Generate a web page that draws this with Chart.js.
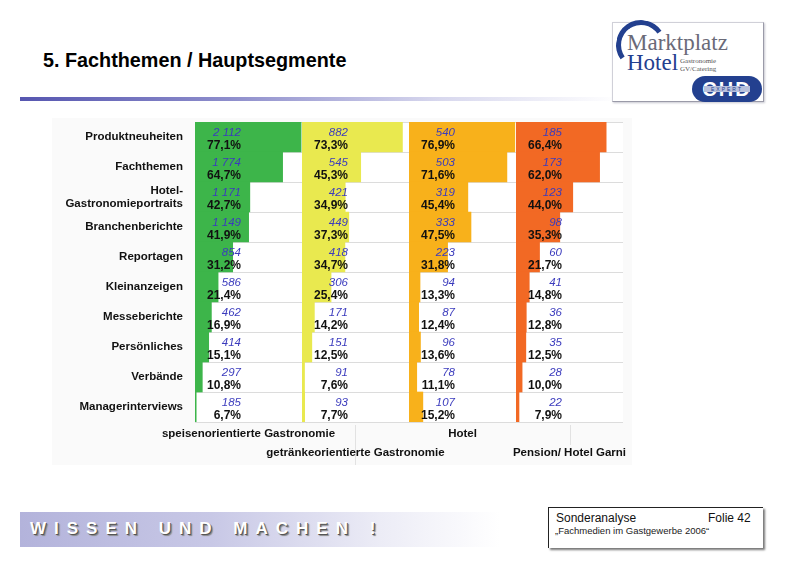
<!DOCTYPE html>
<html>
<head>
<meta charset="utf-8">
<script src="https://cdn.jsdelivr.net/npm/chart.js@4.4.1/dist/chart.umd.min.js"></script>
<style>
  html,body{margin:0;padding:0;background:#fff;}
  body{width:786px;height:561px;position:relative;overflow:hidden;font-family:"Liberation Sans",Arial,sans-serif;}
  .abs{position:absolute;}
  canvas{position:absolute;}
</style>
</head>
<body>
<div class="abs" style="left:43px;top:49px;font-weight:bold;font-size:19.8px;line-height:22px;color:#000;">5. Fachthemen / Hauptsegmente</div>
<div class="abs" style="left:20px;top:97px;width:600px;height:4px;background:linear-gradient(to right,#5656b0 0%,#8e8ecc 35%,#d8d8ee 70%,#ffffff 100%);"></div>

<!-- logo -->
<div class="abs" style="left:612px;top:22px;width:150px;height:78px;border:1px solid #d0d0d8;border-right-color:#9a9aa8;border-bottom-color:#9a9aa8;box-shadow:1px 1px 2px #c8c8d0;background:#fff;"></div>
<div class="abs" style="left:616px;top:20px;width:40px;height:40px;border-radius:50%;border-top:5px solid #23408f;border-left:5px solid #23408f;border-right:5px solid transparent;border-bottom:5px solid transparent;transform:rotate(10deg);"></div>
<div class="abs" style="left:627px;top:30px;font-family:'Liberation Serif',serif;font-size:23px;line-height:26px;color:#6a6a78;">Marktplatz</div>
<div class="abs" style="left:627px;top:51px;font-family:'Liberation Serif',serif;font-size:23px;line-height:24px;color:#23408f;">Hotel</div>
<div class="abs" style="left:680px;top:57px;font-family:'Liberation Serif',serif;font-size:7px;line-height:8px;color:#555;">Gastronomie<br>GV/Catering</div>
<div class="abs" style="left:692px;top:76px;width:70px;height:26px;border-radius:13px;background:#23408f;color:#fff;font-weight:bold;font-size:20px;line-height:26px;text-align:center;letter-spacing:2px;">CHD</div>
<div class="abs" style="left:704px;top:86px;width:46px;height:6px;background:#b8c0dc;color:#23408f;font-size:5px;line-height:6px;text-align:center;letter-spacing:2px;">EXPERT</div>

<!-- chart region background -->
<div class="abs" style="left:52px;top:118px;width:580px;height:347px;background:#fafafa;"></div>
<div class="abs" style="left:355px;top:425px;width:1px;height:40px;background:#e2e2e2;"></div>
<div class="abs" style="left:570px;top:425px;width:1px;height:20px;background:#e2e2e2;"></div>

<canvas id="c0" width="600" height="353" style="left:40px;top:112px;"></canvas>
<canvas id="c1" width="600" height="353" style="left:40px;top:112px;"></canvas>
<canvas id="c2" width="600" height="353" style="left:40px;top:112px;"></canvas>
<canvas id="c3" width="600" height="353" style="left:40px;top:112px;"></canvas>

<!-- footer -->
<div class="abs" style="left:20px;top:512px;width:480px;height:35px;background:linear-gradient(to right,#b3b3db 0%,#c8c8e6 40%,#ececf6 75%,#ffffff 100%);"></div>
<div class="abs" style="left:30px;top:519px;font-weight:bold;font-size:17px;line-height:20px;letter-spacing:8px;word-spacing:1px;color:#fff;text-shadow:1px 1px 0 #555,2px 2px 1px #888;white-space:pre;">WISSEN UND MACHEN !</div>
<div class="abs" style="left:548px;top:507px;width:214px;height:40px;border-left:1px solid #222;border-top:1px solid #222;box-shadow:2px 2px 2px #777;background:#fff;"></div>
<div class="abs" style="left:556px;top:511px;font-size:12px;line-height:14px;color:#111;">Sonderanalyse</div>
<div class="abs" style="left:708px;top:511px;font-size:12px;line-height:14px;color:#111;">Folie 42</div>
<div class="abs" style="left:555px;top:525px;font-size:9.5px;line-height:12px;color:#222;">„Fachmedien im Gastgewerbe 2006“</div>

<script>
// ---- data ----
const categories = ['Produktneuheiten','Fachthemen',['Hotel-','Gastronomieportraits'],'Branchenberichte','Reportagen','Kleinanzeigen','Messeberichte','Persönliches','Verbände','Managerinterviews'];
const segments = ['speisenorientierte Gastronomie','getränkeorientierte Gastronomie','Hotel','Pension/ Hotel Garni'];

const speisenCounts   = [2112,1774,1171,1149,854,586,462,414,297,185];
const speisenPct      = [77.1,64.7,42.7,41.9,31.2,21.4,16.9,15.1,10.8,6.7];
const getraenkeCounts = [882,545,421,449,418,306,171,151,91,93];
const getraenkePct    = [73.3,45.3,34.9,37.3,34.7,25.4,14.2,12.5,7.6,7.7];
const hotelCounts     = [540,503,319,333,223,94,87,96,78,107];
const hotelPct        = [76.9,71.6,45.4,47.5,31.8,13.3,12.4,13.6,11.1,15.2];
const pensionCounts   = [185,173,123,98,60,41,36,35,28,22];
const pensionPct      = [66.4,62.0,44.0,35.3,21.7,14.8,12.8,12.5,10.0,7.9];

// ---- styling ----
const panelColors = ['#3db54a','#e9e94f','#f8b11b','#f26924'];
const countsAll = [speisenCounts, getraenkeCounts, hotelCounts, pensionCounts];
const pctAll = [speisenPct, getraenkePct, hotelPct, pensionPct];
const FONT = '"Liberation Sans", Arial, sans-serif';

function fmtCount(n){ return String(n).replace(/\B(?=(\d{3})+(?!\d))/g,' '); }
function fmtPct(v){ return v.toFixed(1).replace('.',',') + '%'; }

const whiteArea = {
  id:'whiteArea',
  beforeDraw(chart){
    const a = chart.chartArea, ctx = chart.ctx;
    ctx.save(); ctx.fillStyle = '#ffffff';
    ctx.fillRect(a.left, a.top, a.right - a.left, a.bottom - a.top);
    ctx.restore();
  }
};

const valueLabels = {
  id:'valueLabels',
  afterDatasetsDraw(chart, args, opts){
    const ctx = chart.ctx, a = chart.chartArea;
    const meta = chart.getDatasetMeta(0);
    const counts = opts.counts, pcts = chart.data.datasets[0].data;
    ctx.save();
    ctx.textAlign = 'right';
    ctx.textBaseline = 'middle';
    meta.data.forEach((bar, i) => {
      const x = a.left + 46;
      ctx.font = 'italic 11.5px ' + FONT;
      ctx.fillStyle = '#3b3bbd';
      ctx.fillText(fmtCount(counts[i]), x, bar.y - 4);
      ctx.font = 'bold 12px ' + FONT;
      ctx.fillStyle = '#111111';
      ctx.fillText(fmtPct(pcts[i]), x, bar.y + 9);
    });
    ctx.restore();
  }
};

// segment name under each panel (alternating rows)
const segmentLabel = {
  id:'segmentLabel',
  afterDraw(chart, args, opts){
    const ctx = chart.ctx, a = chart.chartArea;
    ctx.save();
    ctx.font = 'bold 11.5px ' + FONT;
    ctx.fillStyle = '#111';
    ctx.textAlign = 'center';
    ctx.textBaseline = 'middle';
    ctx.fillText(opts.text, (a.left + a.right) / 2, a.bottom + opts.dy);
    ctx.restore();
  }
};

const titleOffsets = [12, 31, 12, 31];

for (let i = 0; i < 4; i++) {
  const padLeft = i === 0 ? 0 : 155 + 107 * i;
  const padRight = 338 - 107 * i;
  const yWidth = i === 0 ? 155 : 0;
  new Chart(document.getElementById('c' + i), {
    type: 'bar',
    data: {
      labels: categories,
      datasets: [{
        data: pctAll[i],
        backgroundColor: panelColors[i],
        borderWidth: 0,
        barPercentage: 1,
        categoryPercentage: 1,
        clip: 0
      }]
    },
    options: {
      indexAxis: 'y',
      responsive: false,
      animation: false,
      devicePixelRatio: 1,
      layout: { padding: { left: padLeft, right: padRight, top: 10, bottom: 0 } },
      plugins: {
        legend: { display: false },
        tooltip: { enabled: false },
        valueLabels: { counts: countsAll[i] },
        segmentLabel: { text: segments[i], dy: titleOffsets[i] }
      },
      scales: {
        x: {
          min: 5.9, max: 77.7,
          grid: { display: false },
          border: { display: false },
          ticks: { display: false },
          afterFit: s => { s.height = 43; s.paddingLeft = 0; s.paddingRight = 0; }
        },
        y: {
          offset: true,
          grid: { offset: true, color: '#dcdcdc', lineWidth: 1, drawTicks: false },
          border: { display: false },
          ticks: {
            display: i === 0,
            autoSkip: false,
            padding: 12,
            color: '#111',
            font: { family: FONT, size: 11.5, weight: 'bold', lineHeight: 1.15 }
          },
          afterFit: s => { s.width = yWidth; s.paddingTop = 0; s.paddingBottom = 0; }
        }
      }
    },
    plugins: [whiteArea, valueLabels, segmentLabel]
  });
}
</script>
</body>
</html>
